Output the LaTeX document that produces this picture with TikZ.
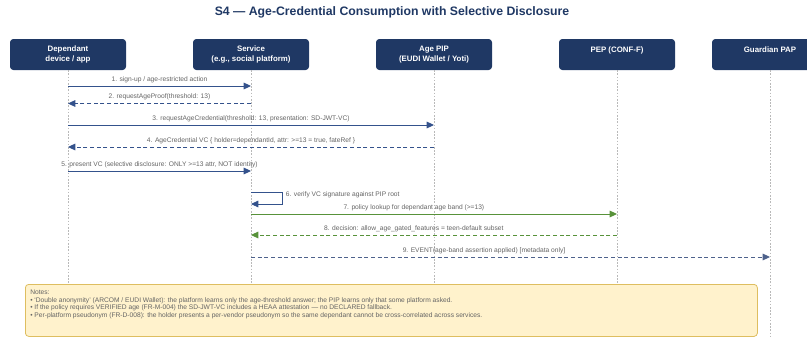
\documentclass[tikz,border=0pt]{standalone}
\usepackage{fontspec}
\setmainfont{Liberation Sans}
\usetikzlibrary{arrows.meta}
\definecolor{navy}{RGB}{31,56,100}
\definecolor{msgblue}{RGB}{52,82,140}
\definecolor{evtblue}{RGB}{78,98,140}
\definecolor{grn}{RGB}{88,146,58}
\definecolor{lblgray}{RGB}{100,100,100}
\definecolor{lifegray}{RGB}{185,185,185}
\definecolor{notefill}{RGB}{255,242,204}
\definecolor{notedraw}{RGB}{222,190,96}
\begin{document}
\begin{tikzpicture}[x=0.75pt,y=0.75pt,yscale=-1,xscale=1,
  actor/.style={fill=navy,rounded corners=2.5pt,minimum width=87pt,minimum height=23.25pt,
    text=white,font=\fontsize{5.9}{7.5}\selectfont\bfseries,align=center,inner sep=0pt},
  life/.style={draw=lifegray,line width=0.5pt,dash pattern=on 1.2pt off 1.2pt},
  msg/.style={draw=msgblue,line width=0.75pt,-{Triangle[length=5.5pt,width=5pt]}},
  reply/.style={msg,dash pattern=on 3pt off 2pt},
  lbl/.style={text=lblgray,font=\fontsize{5}{6}\selectfont,inner sep=0.5pt},
  notebox/.style={fill=notefill,draw=notedraw,line width=0.6pt,rounded corners=2.5pt,
    minimum width=549pt,minimum height=39pt,inner sep=0pt}]
	%set diagram size 807 x 339
	\useasboundingbox (0,0) rectangle (807,339);
	\coordinate (bottom) at (0,339);

	% Title
	\node (title) at (392,12) [text=navy,font=\fontsize{9.2}{11}\selectfont\bfseries] {S4 — Age-Credential Consumption with Selective Disclosure};

	%Shape: Participants
	\node[actor] (dev) at (68,54.5) {Dependant\\device / app};
	\node[actor] (svc) at (251,54.5) {Service\\(e.g., social platform)};
	\node[actor] (pip) at (434,54.5) {Age PIP\\(EUDI Wallet / Yoti)};
	\node[actor] (pep) at (617,54.5) {PEP (CONF-F)\\\phantom{X}};
	\node[actor] (pap) at (770,54.5) {Guardian PAP\\\phantom{X}};

	%Straight Lines: lifelines
	\foreach \p in {dev,svc,pip,pep,pap}
		\draw[life] (\p.south) -- (\p.south |- bottom);

	% message levels
	\coordinate (m1) at (0,86);
	\coordinate (m2) at (0,103.5);
	\coordinate (m3) at (0,125);
	\coordinate (m4) at (0,147);
	\coordinate (m5) at (0,171);
	\coordinate (m6a) at (0,192);
	\coordinate (m6b) at (0,204);
	\coordinate (m7) at (0,214);
	\coordinate (m8) at (0,235);
	\coordinate (m9) at (0,257);

	\draw[msg] (dev |- m1) -- (svc |- m1) node[midway,above=1.5pt,lbl] {1. sign-up / age-restricted action};
	\draw[reply] (svc |- m2) -- (dev |- m2) node[midway,above=1.5pt,lbl] {2. requestAgeProof(threshold: 13)};
	\draw[msg] (dev |- m3) -- (pip |- m3) node[midway,above=1.5pt,lbl] {3. requestAgeCredential(threshold: 13, presentation: SD-JWT-VC)};
	\draw[reply] (pip |- m4) -- (dev |- m4) node[midway,above=1.5pt,lbl] {4. AgeCredential VC \{ holder=dependantId, attr: >=13 = true, fateRef \}};
	\draw[msg] (dev |- m5) -- (svc |- m5) node[midway,above=1.5pt,lbl] {5. present VC (selective disclosure: ONLY >=13 attr, NOT identity)};
	% self call
	\draw[msg,line width=0.6pt] (svc |- m6a) -- ++(31,0) |- (svc |- m6b);
	\node[lbl,anchor=west] (l6) at (285,195) {6. verify VC signature against PIP root};
	\draw[msg,draw=grn] (svc |- m7) -- (pep |- m7) node[pos=0.445,above=1.5pt,lbl] {7. policy lookup for dependant age band (>=13)};
	\draw[reply,draw=grn] (pep |- m8) -- (svc |- m8) node[pos=0.555,above=1.5pt,lbl] {8. decision: allow\_age\_gated\_features = teen-default subset};
	\draw[reply,draw=evtblue] (svc |- m9) -- (pap |- m9) node[pos=0.449,above=1.5pt,lbl] {9. EVENT(age-band assertion applied) [metadata only]};

	%Shape: Notes
	\node[notebox,anchor=north west] (notes) at (25,284) {};
	% Text Node
	\node[anchor=north west,inner sep=0pt,text=lblgray,font=\fontsize{5}{5.8}\selectfont,align=left] (notetext) at (30,289.5) {Notes:\\
	• `Double anonymity' (ARCOM / EUDI Wallet): the platform learns only the age-threshold answer; the PIP learns only that some platform asked.\\
	• If the policy requires VERIFIED age (FR-M-004) the SD-JWT-VC includes a HEAA attestation — no DECLARED fallback.\\
	• Per-platform pseudonym (FR-D-008): the holder presents a per-vendor pseudonym so the same dependant cannot be cross-correlated across services.};

\end{tikzpicture}
\end{document}
